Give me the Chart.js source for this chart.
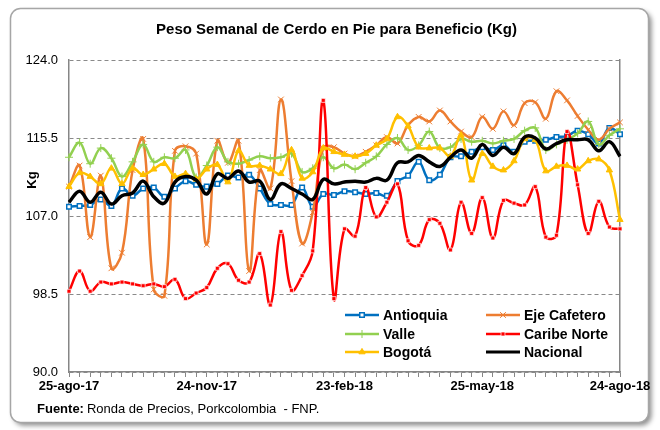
<!DOCTYPE html>
<html><head><meta charset="utf-8">
<script src="https://cdn.jsdelivr.net/npm/chart.js@4.4.0/dist/chart.umd.min.js"></script>
<style>html,body{margin:0;padding:0;background:#fff}canvas{display:block}</style>
</head><body>
<canvas id="c" width="660" height="430"></canvas>
<script>
const weeks = ['25-ago-17','01-sep-17','08-sep-17','15-sep-17','22-sep-17','29-sep-17','06-oct-17','13-oct-17','20-oct-17','27-oct-17',
  '03-nov-17','10-nov-17','17-nov-17','24-nov-17','01-dic-17','08-dic-17','15-dic-17','22-dic-17','29-dic-17','05-ene-18',
  '12-ene-18','19-ene-18','26-ene-18','02-feb-18','09-feb-18','16-feb-18','23-feb-18','02-mar-18','09-mar-18','16-mar-18',
  '23-mar-18','30-mar-18','06-abr-18','13-abr-18','20-abr-18','27-abr-18','04-may-18','11-may-18','18-may-18','25-may-18',
  '01-jun-18','08-jun-18','15-jun-18','22-jun-18','29-jun-18','06-jul-18','13-jul-18','20-jul-18','27-jul-18','03-ago-18',
  '10-ago-18','17-ago-18','24-ago-18'];
const shownTicks = ['25-ago-17','24-nov-17','23-feb-18','25-may-18','24-ago-18'];
const yTicks = [90.0, 98.5, 107.0, 115.5, 124.0];

const antioquia = [108.0,108.1,108.2,108.8,108.1,110.0,109.2,110.0,110.1,109.1,
  110.0,110.8,110.4,110.2,110.5,111.4,111.2,111.5,110.0,108.3,
  108.2,108.2,110.1,108.0,109.4,109.3,109.7,109.6,109.4,109.5,
  109.2,110.8,111.4,112.9,110.9,111.5,113.4,113.5,114.0,114.5,
  114.2,114.7,114.0,115.1,115.2,115.3,115.6,115.7,116.3,115.9,
  114.9,116.6,115.9];
const ejeCafetero = [110.2,112.5,104.7,111.4,101.3,103.0,112.0,115.4,99.0,98.3,
  114.1,114.6,113.8,103.9,115.2,112.8,115.2,101.0,112.0,110.0,
  119.7,110.8,104.0,107.4,114.4,114.5,113.8,113.5,114.0,114.7,
  115.6,114.9,116.9,117.8,117.3,118.5,117.3,116.2,115.6,117.8,
  116.5,118.4,116.9,119.3,119.4,117.6,120.6,119.6,117.9,116.4,
  115.3,116.5,117.2];
const valle = [113.4,115.0,112.7,114.4,113.3,111.3,112.9,114.8,112.9,113.4,
  113.3,114.2,111.2,112.5,114.5,112.9,112.7,113.1,113.5,113.3,
  113.4,113.8,111.8,112.2,113.4,112.2,112.6,112.1,112.8,113.5,
  114.8,115.5,114.2,114.7,116.2,114.4,114.5,115.4,115.1,115.2,
  114.9,115.2,115.4,116.3,116.6,114.2,114.8,115.3,116.0,117.3,
  114.8,115.8,116.5];
const caribeNorte = [98.8,101.0,98.8,99.8,99.6,99.8,99.6,99.4,99.6,99.3,
  100.1,98.0,98.6,99.2,101.3,101.8,100.0,99.8,102.9,97.3,
  105.3,98.9,100.5,103.2,119.6,98.0,105.6,104.8,110.1,106.9,
  108.5,110.5,104.3,103.8,106.6,106.2,103.3,108.5,105.1,109.0,
  104.6,108.7,108.4,108.2,110.2,104.7,104.9,116.2,110.4,105.1,
  108.6,105.8,105.6];
const bogota = [110.2,111.7,111.3,110.5,112.2,110.5,112.2,111.5,112.1,112.7,
  111.3,111.6,111.0,112.1,112.6,110.7,114.1,112.5,112.5,112.1,
  111.6,114.2,111.1,111.8,114.4,114.0,113.7,113.5,113.8,114.7,
  115.4,117.8,116.8,114.5,114.4,114.4,113.5,115.8,110.9,113.8,
  112.4,112.0,113.0,115.4,115.3,111.9,112.4,112.5,112.1,113.0,
  113.2,112.0,106.6];
const nacional = [108.5,109.7,108.5,109.6,108.3,109.2,109.5,110.8,109.1,108.4,
  110.7,111.3,110.9,109.4,111.6,111.1,111.9,110.7,110.8,108.8,
  110.5,110.0,109.4,108.8,111.0,110.5,110.7,110.8,110.7,111.1,
  110.9,112.8,112.9,113.6,112.9,112.4,113.4,114.2,113.3,114.8,
  113.6,114.5,113.8,115.6,115.5,114.3,114.9,115.3,115.3,115.3,
  114.1,115.1,113.5];

const FONT = '"Liberation Sans", Arial, Helvetica, sans-serif';

function series(label, data, color, style, radius, bg, pbw, order, width) {
  return {
    label, data, order,
    borderColor: color, borderWidth: width || 2.5, tension: 0.4,
    pointStyle: style, pointRadius: radius,
    pointBackgroundColor: bg, pointBorderColor: style === 'rect' && bg === color ? 'rgba(255,255,255,0.7)' : color,
    pointBorderWidth: pbw, fill: false
  };
}

const datasets = [
  series('Antioquia', antioquia, '#0070C0', 'rect', 3.2, '#ffffff', 1.5, 6),
  series('Eje Cafetero', ejeCafetero, '#ED7D31', 'crossRot', 4, '#ED7D31', 1, 5),
  series('Valle', valle, '#92D050', 'cross', 4, '#92D050', 1, 4),
  series('Caribe Norte', caribeNorte, '#FF0000', 'rect', 2.8, '#FF0000', 1, 3),
  series('Bogotá', bogota, '#FFC000', 'triangle', 3.6, '#FFC000', 1, 2),
  series('Nacional', nacional, '#000000', 'circle', 0, '#000000', 0, 1, 3.5)
];

const framePlugin = {
  id: 'frame',
  beforeDraw(chart) {
    const ctx = chart.ctx;
    ctx.save();
    ctx.fillStyle = '#fff';
    ctx.fillRect(0, 0, chart.width, chart.height);
    const x = 10.5, y = 8.5, w = 638, h = 414, r = 10;
    ctx.beginPath();
    ctx.moveTo(x + r, y);
    ctx.lineTo(x + w - r, y); ctx.arcTo(x + w, y, x + w, y + r, r);
    ctx.lineTo(x + w, y + h - r); ctx.arcTo(x + w, y + h, x + w - r, y + h, r);
    ctx.lineTo(x + r, y + h); ctx.arcTo(x, y + h, x, y + h - r, r);
    ctx.lineTo(x, y + r); ctx.arcTo(x, y, x + r, y, r);
    ctx.closePath();
    ctx.shadowColor = 'rgba(0,0,0,0.45)';
    ctx.shadowBlur = 5; ctx.shadowOffsetX = 3; ctx.shadowOffsetY = 3;
    ctx.fill();
    ctx.shadowColor = 'transparent';
    ctx.strokeStyle = '#a6a6a6'; ctx.lineWidth = 1.5;
    ctx.stroke();
    ctx.restore();
  },
  afterDraw(chart) {
    const ctx = chart.ctx;
    ctx.save();
    ctx.translate(32, 180);
    ctx.rotate(-Math.PI / 2);
    ctx.fillStyle = '#000';
    ctx.font = 'bold 13px ' + FONT;
    ctx.textAlign = 'center'; ctx.textBaseline = 'middle';
    ctx.fillText('Kg', 0, 0);
    ctx.restore();
    ctx.save();
    ctx.fillStyle = '#000';
    ctx.textBaseline = 'middle'; ctx.textAlign = 'left';
    ctx.font = 'bold 13px ' + FONT;
    const a = 'Fuente:';
    ctx.fillText(a, 37, 409);
    const wA = ctx.measureText(a).width;
    ctx.font = '13px ' + FONT;
    ctx.fillText('Ronda de Precios, Porkcolombia  - FNP.', 37 + wA + 3, 409);
    ctx.restore();
  }
};

const legendPlugin = {
  id: 'boxLegend',
  afterDatasetsDraw(chart) {
    const ctx = chart.ctx;
    const cols = [345, 486], rows = [315, 334, 352], len = 34;
    ctx.save();
    chart.data.datasets.forEach((d, k) => {
      const x0 = cols[k % 2], y = rows[Math.floor(k / 2)], x1 = x0 + len;
      ctx.setLineDash([]);
      ctx.strokeStyle = d.borderColor; ctx.lineWidth = Math.min(d.borderWidth, 3);
      ctx.beginPath(); ctx.moveTo(x0, y); ctx.lineTo(x1, y); ctx.stroke();
      if (d.pointRadius > 0 && Chart.helpers && Chart.helpers.drawPoint) {
        ctx.fillStyle = d.pointBackgroundColor;
        ctx.strokeStyle = d.pointBorderColor;
        ctx.lineWidth = d.pointBorderWidth;
        Chart.helpers.drawPoint(ctx, {pointStyle: d.pointStyle, radius: d.pointRadius, borderWidth: d.pointBorderWidth, rotation: 0}, (x0 + x1) / 2, y);
      }
      ctx.fillStyle = '#000';
      ctx.font = 'bold 14px ' + FONT;
      ctx.textAlign = 'left'; ctx.textBaseline = 'middle';
      ctx.fillText(d.label, x1 + 4, y + 1);
    });
    ctx.restore();
  }
};

new Chart(document.getElementById('c'), {
  type: 'line',
  data: { labels: weeks, datasets },
  plugins: [framePlugin, legendPlugin],
  options: {
    responsive: false, animation: false, devicePixelRatio: 1, events: [],
    layout: { padding: { left: 13, right: 0, top: 0, bottom: 0 } },
    plugins: {
      legend: { display: false },
      tooltip: { enabled: false },
      title: {
        display: true, text: 'Peso Semanal de Cerdo en Pie para Beneficio (Kg)',
        color: '#000', font: { family: FONT, size: 15, weight: 'bold' },
        padding: { top: 21, bottom: 21 }
      }
    },
    scales: {
      x: {
        offset: false,
        grid: { display: true, drawOnChartArea: false, drawTicks: true, tickLength: 5, color: '#868686' },
        border: { display: true, color: '#868686', width: 1.5 },
        ticks: {
          autoSkip: false, maxRotation: 0, minRotation: 0, padding: 2,
          color: '#000', font: { family: FONT, size: 13, weight: 'bold' },
          callback: function (v) { const l = this.getLabelForValue(v); return shownTicks.includes(l) ? l : ''; }
        },
        afterFit: s => { s.height = 58; }
      },
      y: {
        min: 90, max: 124,
        afterBuildTicks: s => { s.ticks = yTicks.map(v => ({ value: v })); },
        grid: { color: '#8a8a8a', drawTicks: false, lineWidth: 1 },
        border: { display: true, color: '#868686', width: 1.5, dash: [4, 3] },
        ticks: { padding: 11, color: '#000', font: { family: FONT, size: 13 }, callback: v => Number(v).toFixed(1) },
        afterFit: s => { s.width = 56; }
      },
      y2: {
        position: 'right', min: 90, max: 124,
        grid: { display: false },
        border: { display: true, color: '#868686', width: 1.5 },
        ticks: { display: false },
        afterFit: s => { s.width = 40; }
      }
    }
  }
});
</script>
</body></html>
